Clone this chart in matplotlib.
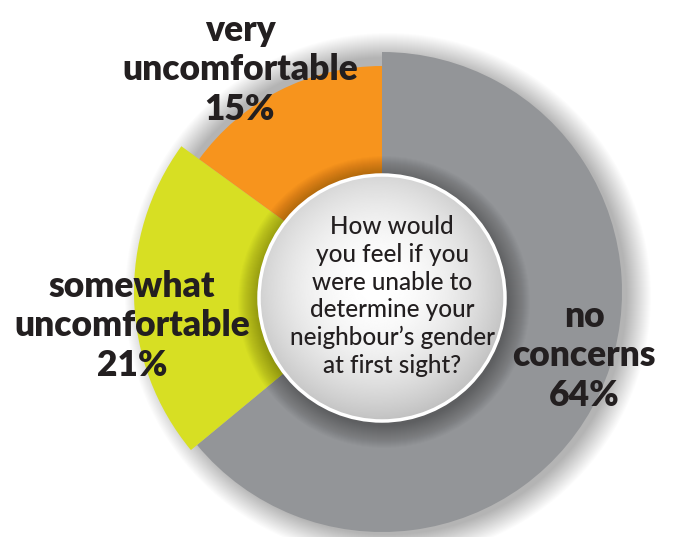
import matplotlib.pyplot as plt
import numpy as np
from matplotlib.patches import Circle

# survey answers, clockwise from 12 o'clock
answers = ['no\nconcerns', 'somewhat\nuncomfortable', 'very\nuncomfortable']
shares = [64, 21, 15]
colors = ['#939598', '#d7df23', '#f7941d']
radii = [240, 248, 226]
question = "How would\nyou feel if you\nwere unable to\ndetermine your\nneighbour\u2019s gender\nat first sight?"

H = 537
cx, cy = 382, H - 292
inner_r = 123

fig = plt.figure(figsize=(6.75, 5.37), dpi=100)
ax = fig.add_axes([0, 0, 1, 1])

# soft outer shadow
for k in range(1, 26):
    ax.add_patch(Circle((cx + 6, cy - 4), 238 + k, color='black',
                        alpha=0.012, lw=0, zorder=0))

wedges, _ = ax.pie(shares, colors=colors, startangle=90, counterclock=False,
                   center=(cx, cy), radius=240, frame=True)
for w, r in zip(wedges, radii):
    w.set_radius(r)
    w.set_zorder(1)
ax.set_xlim(0, 675)
ax.set_ylim(0, H)
ax.set_aspect('equal')
ax.axis('off')

# shading around the centre disc
dy = cy - 6
for k in range(1, 24):
    ax.add_patch(Circle((cx + 2, dy - 4), inner_r + k, color='black',
                        alpha=0.016, lw=0, zorder=2))

# centre disc with radial gradient
disc = Circle((cx, dy), inner_r, facecolor='none', edgecolor='white',
              lw=2.5, zorder=4)
ax.add_patch(disc)
yy, xx = np.mgrid[-1:1:300j, -1:1:300j]
dist = np.sqrt((xx + 0.05) ** 2 + (yy + 0.1) ** 2)
grad = 1 - 0.2 * np.clip(dist, 0, 1.2) ** 2
img = ax.imshow(grad, cmap='gray', vmin=0, vmax=1, zorder=3,
                extent=[cx - inner_r, cx + inner_r, dy - inner_r, dy + inner_r])
img.set_clip_path(disc)

ax.text(392, H - 296, question, ha='center', va='center', fontsize=17.5,
        family='Lato', weight='medium', color='#231f20', linespacing=1.24,
        zorder=5)

label_font = dict(family='Lato', weight='heavy', fontsize=25.5,
                  color='#231f20', ha='center', va='center',
                  linespacing=1.25, zorder=6)
pos = [(584, 356), (132, 326), (240, 70)]
for name, s, (x, y) in zip(answers, shares, pos):
    ax.text(x, H - y, f'{name}\n{s}%', **label_font)

fig.savefig('out.png', dpi=100)
